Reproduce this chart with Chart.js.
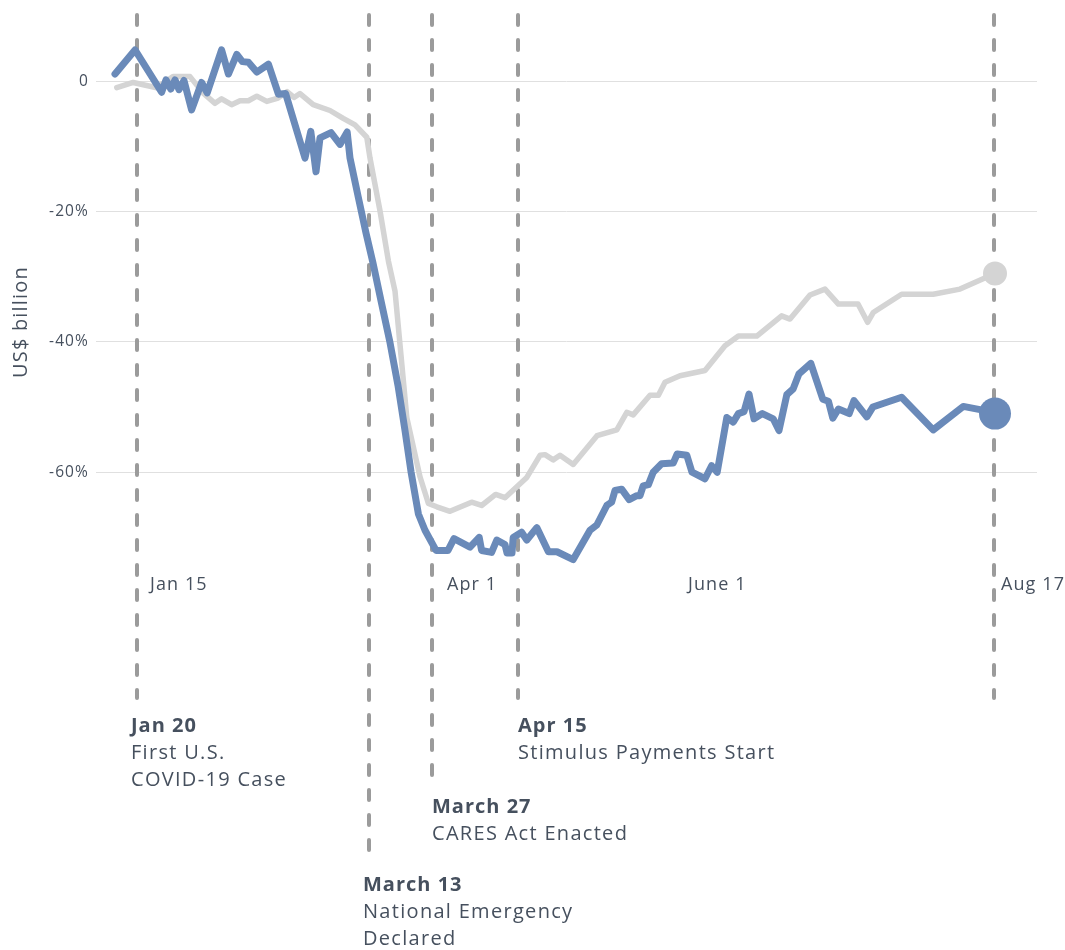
<!DOCTYPE html>
<html>
<head>
<meta charset="utf-8">
<script src="https://cdn.jsdelivr.net/npm/chart.js@4.4.1/dist/chart.umd.min.js"></script>
<style>
  html, body { margin: 0; padding: 0; background: #fff; }
</style>
</head>
<body>
<canvas id="chart" width="1065" height="950"></canvas>
<script>
// x = position on the timeline (days from start of plot), y = % change
const blueX = [4.75, 9.75, 16.4, 17.5, 18.7, 19.75, 20.75, 22, 23.9, 26.4, 27.8, 31.4, 33.1, 35.2, 36.6, 38.1, 40.2, 43.1, 45.6, 47.4,
  52.25, 53.7, 55, 56, 58.75, 61, 62.8, 63.5, 65.5, 67.5, 69.25, 71.25, 73.5, 75.5, 77.25, 78.75, 80.6, 82.25, 85, 88,
  89.5, 93.5, 95.8, 96.4, 98.9, 100.2, 102.25, 102.75, 104, 104.3, 106.4, 107.7, 110.2, 113.1, 115.25, 119.3, 123.5, 125.2, 127.7, 128.9,
  129.75, 131.4, 133.3, 135.2, 136, 136.8, 138.1, 139.3, 141.4, 144.3, 145.3, 147.7, 149, 152.25, 153.9, 155.3, 157.7, 159.3, 160.6, 162,
  163.25, 164.5, 166.6, 169.3, 170.75, 172.7, 174.3, 175.75, 178.7, 181.7, 183.1, 184.2, 185.6, 188.3, 189.5, 192.7, 194.2, 201.4, 209.3, 216.8,
  221, 224.75];
const blueY = [1.1, 4.8, -1.7, 0.2, -1.2, 0.2, -1.3, 0.1, -4.4, -0.2, -1.8, 4.8, 1.1, 4.1, 3.0, 2.9, 1.4, 2.6, -2.0, -1.9,
  -11.8, -7.7, -13.9, -8.7, -7.9, -9.7, -7.8, -11.8, -17.6, -23.3, -27.9, -33.7, -40.1, -46.7, -53.6, -59.9, -66.4, -68.9, -72.0, -72.0,
  -70.2, -71.5, -70.0, -72.0, -72.3, -70.4, -71.1, -72.4, -72.4, -70.0, -69.2, -70.4, -68.5, -72.2, -72.2, -73.4, -68.9, -68.1, -65.1, -64.6,
  -62.8, -62.6, -64.2, -63.6, -63.6, -62.1, -61.9, -60.0, -58.7, -58.6, -57.2, -57.4, -60.0, -61.0, -59.0, -60.0, -51.6, -52.3, -51.0, -50.7,
  -48.0, -51.8, -51.0, -51.8, -53.6, -48.1, -47.2, -44.9, -43.3, -48.8, -49.1, -51.7, -50.3, -51.0, -49.0, -51.5, -50.0, -48.5, -53.5, -49.9,
  -50.4, -51.0];

const grayX = [5.2, 9.3, 15.2, 19.25, 23.5, 26.75, 29.75, 31.4, 33.9, 36, 38.1, 40.2, 42.7, 45.5, 47.75, 49.5, 51, 54.3, 58.5, 61.8,
  64.75, 67.7, 68.5, 71, 73.1, 74.75, 77.7, 81, 83.1, 85.2, 88.5, 93.9, 96.4, 99.9, 102.25, 107.7, 111, 112.25, 114.3, 116,
  119.3, 125.25, 130.2, 132.7, 134.3, 138.5, 140.6, 142.25, 146, 152.25, 157.25, 160.6, 165.2, 171.4, 173.5, 178.5, 182.25, 185.6, 190.5, 192.9,
  194.3, 201.4, 209.3, 216, 224.75];
const grayY = [-1.0, -0.2, -1.0, 0.7, 0.7, -1.8, -3.4, -2.7, -3.6, -3.0, -3.0, -2.3, -3.1, -2.6, -1.6, -2.5, -1.9, -3.6, -4.5, -5.7,
  -6.7, -8.6, -11.8, -19.9, -27.6, -32.2, -51.6, -60.7, -64.8, -65.3, -66.0, -64.6, -65.1, -63.4, -63.9, -60.8, -57.4, -57.3, -58.1, -57.4,
  -58.8, -54.4, -53.5, -50.8, -51.2, -48.2, -48.2, -46.2, -45.2, -44.4, -40.6, -39.1, -39.1, -36.0, -36.5, -32.8, -31.9, -34.2, -34.2, -37.0,
  -35.5, -32.7, -32.7, -31.9, -29.5];

const yTicks = [0, -20, -40, -60];
const xTickPos = [13.5, 87.75, 148, 226.25];
const xTickLabels = ["Jan 15", "Apr 1", "June 1", "Aug 17"];

const eventPos = [10.25, 68.25, 84, 105.5, 224.5];
const eventDates = ["Jan 20", "March 13", "March 27", "Apr 15", ""];
const eventText = [["First U.S.", "COVID-19 Case"], ["National Emergency", "Declared"], ["CARES Act Enacted"], ["Stimulus Payments Start"], []];

const BLUE = "#6a8ab9";
const GRAY = "#d4d4d4";
const TEXT = "#46505e";
const FONT = "'Open Sans', sans-serif";

// where each dashed line stops and its label sits
const lineBottom = [698, 862, 790, 698, 698];
const labelTop = [726, 885, 807, 726, 0];
const labelDx = [-6, -6, 0, 0, 0];

const eventLines = {
  id: "eventLines",
  beforeDraw(chart) {
    // the source font is wider than Open Sans, open it up a bit
    chart.ctx.letterSpacing = "1.1px";
  },
  beforeDatasetsDraw(chart) {
    const ctx = chart.ctx;
    const sx = chart.scales.x;
    ctx.save();
    ctx.strokeStyle = "#9b9b9b";
    ctx.lineWidth = 4;
    ctx.lineCap = "round";
    ctx.setLineDash([10, 15]);
    eventPos.forEach((p, i) => {
      const px = sx.getPixelForValue(p);
      ctx.beginPath();
      ctx.moveTo(px, 15);
      ctx.lineTo(px, lineBottom[i]);
      ctx.stroke();
    });
    ctx.restore();
  },
  afterDraw(chart) {
    const ctx = chart.ctx;
    const sx = chart.scales.x;
    ctx.save();
    ctx.fillStyle = TEXT;
    ctx.textBaseline = "middle";
    ctx.textAlign = "left";
    eventPos.forEach((p, i) => {
      if (!eventDates[i]) return;
      const px = sx.getPixelForValue(p) + labelDx[i];
      ctx.letterSpacing = "1px";
      ctx.font = "bold 20px " + FONT;
      ctx.fillText(eventDates[i], px, labelTop[i]);
      ctx.letterSpacing = "1.3px";
      ctx.font = "20px " + FONT;
      eventText[i].forEach((t, j) => ctx.fillText(t, px, labelTop[i] + 27 * (j + 1)));
    });
    // y axis title
    ctx.translate(21, 322);
    ctx.rotate(-Math.PI / 2);
    ctx.textAlign = "center";
    ctx.letterSpacing = "1.2px";
    ctx.font = "20px " + FONT;
    ctx.fillText("US$ billion", 0, 0);
    ctx.restore();
  }
};

const endDot = (r) => (c) => c.dataIndex === c.dataset.data.length - 1 ? r : 0;

new Chart(document.getElementById("chart"), {
  type: "line",
  data: {
    datasets: [
      {
        label: "Blue",
        data: blueX.map((x, i) => ({ x: x, y: blueY[i] })),
        borderColor: BLUE,
        backgroundColor: BLUE,
        borderWidth: 7,
        pointRadius: endDot(16),
        pointBorderWidth: 0,
        pointHoverRadius: endDot(16),
        borderJoinStyle: "round",
        borderCapStyle: "round",
        tension: 0
      },
      {
        label: "Gray",
        data: grayX.map((x, i) => ({ x: x, y: grayY[i] })),
        borderColor: GRAY,
        backgroundColor: GRAY,
        borderWidth: 5.5,
        pointRadius: endDot(12),
        pointBorderWidth: 0,
        pointHoverRadius: endDot(12),
        borderJoinStyle: "round",
        borderCapStyle: "round",
        tension: 0
      }
    ]
  },
  options: {
    responsive: false,
    animation: false,
    devicePixelRatio: 1,
    layout: { padding: { top: 14.35, right: 28, bottom: 350, left: 0 } },
    plugins: { legend: { display: false }, tooltip: { enabled: false } },
    scales: {
      x: {
        type: "linear",
        min: 0,
        max: 235.25,
        grid: { display: false, drawTicks: false },
        border: { display: false },
        afterBuildTicks: (s) => { s.ticks = xTickPos.map(v => ({ value: v })); },
        afterFit: (s) => { s.height = 30; s.paddingLeft = 0; s.paddingRight = 0; },
        ticks: {
          autoSkip: false,
          maxRotation: 0,
          align: "start",
          padding: 4,
          color: TEXT,
          font: { family: FONT, size: 18 },
          callback: (v) => xTickLabels[xTickPos.indexOf(v)]
        }
      },
      y: {
        min: -75,
        max: 10,
        grid: { color: "#e0e0e0", lineWidth: 1, drawTicks: false },
        border: { display: false },
        afterBuildTicks: (s) => { s.ticks = yTicks.map(v => ({ value: v })); },
        afterFit: (s) => { s.width = 96; s.paddingTop = 0; s.paddingBottom = 0; },
        ticks: {
          padding: 7,
          color: TEXT,
          font: { family: FONT, size: 15.5 },
          callback: (v) => v === 0 ? "0" : v + "%"
        }
      }
    }
  },
  plugins: [eventLines]
});
</script>
</body>
</html>
